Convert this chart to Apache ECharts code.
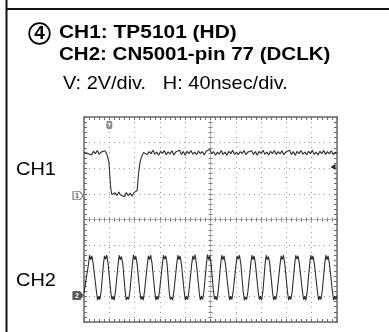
<!DOCTYPE html>
<html><head><meta charset="utf-8">
<script src="https://cdn.jsdelivr.net/npm/echarts@6/dist/echarts.min.js"></script>
<style>html,body{margin:0;padding:0;background:#fff}#c{width:389px;height:332px}</style>
</head><body><div id="c"></div>
<script>
// ---- texts ----
const stepNumber = '4';
const titleLines = ['CH1: TP5101 (HD)', 'CH2: CN5001-pin 77 (DCLK)'];
const scaleLine = 'V: 2V/div.   H: 40nsec/div.';
const channelNames = ['CH1', 'CH2'];

// ---- scope settings ----
const timeMin = -200, timeMax = 200, timePerDiv = 40;   // ns
const divMin = -4, divMax = 4;
const voltsPerDiv = 2;
const ch1Position = 0.93;   // ground position in divisions
const ch2Position = -2.97;
const triggerTime = -160;   // ns
const triggerLevel = 2.24;  // V on CH1

// ---- CH1 trace (ns, V) ----
const ch1Trace = [
[-200,3.36],[-197,3.50],[-194,3.30],[-191,3.44],[-188,3.18],[-185,3.46],[-182,3.28],[-179,3.52],[-176,3.22],[-173,3.40],[-170,3.30],[-167,3.50],[-164,3.26],[-162,3.34],
[-160.5,2.6],[-159,1.4],[-157.5,0.5],[-156,0.1],
[-154,-0.05],[-151,0.22],[-148,0.02],[-145,0.28],[-142,0.05],[-139,0.2],[-136,-0.08],[-133,0.24],[-130,0.0],[-127,0.2],[-124,-0.04],[-121,0.24],[-118,0.12],
[-116,0.4],[-114.5,1.3],[-113,2.1],[-111,2.7],[-108.5,3.1],[-106,3.36],
[-103,3.50],[-100,3.22],[-97,3.44],[-94,3.28],[-91,3.54],[-88,3.24],[-85,3.40],[-82,3.16],[-79,3.46],[-76,3.30],[-73,3.52],[-70,3.20],[-67,3.42],[-64,3.26],[-61,3.50],[-58,3.18],[-55,3.40],[-52,3.28],[-49,3.54],[-46,3.22],[-43,3.44],[-40,3.16],[-37,3.46],[-34,3.28],[-31,3.52],[-28,3.24],[-25,3.40],[-22,3.20],[-19,3.48],[-16,3.28],[-13,3.44],[-10,3.18],[-7,3.46],[-4,3.32],[-1,3.60],[2,3.28],[5,3.44],[8,3.16],[11,3.40],[14,3.24],[17,3.52],[20,3.22],[23,3.40],[26,3.16],[29,3.46],[32,3.28],[35,3.54],[38,3.22],[41,3.40],[44,3.20],[47,3.44],[50,3.28],[53,3.52],[56,3.20],[59,3.40],[62,3.26],[65,3.50],[68,3.22],[71,3.44],[74,3.16],[77,3.46],[80,3.28],[83,3.54],[86,3.24],[89,3.40],[92,3.18],[95,3.46],[98,3.28],[101,3.52],[104,3.22],[107,3.44],[110,3.26],[113,3.50],[116,3.20],[119,3.40],[122,3.28],[125,3.54],[128,3.22],[131,3.44],[134,3.16],[137,3.46],[140,3.28],[143,3.52],[146,3.24],[149,3.40],[152,3.20],[155,3.46],[158,3.28],[161,3.54],[164,3.22],[167,3.40],[170,3.18],[173,3.46],[176,3.28],[179,3.52],[182,3.22],[185,3.44],[188,3.26],[191,3.50],[194,3.20],[197,3.40],[200,3.30]
];

// ---- CH2 trace (ns, V) ----
const ch2Trace = [
[-200,0.2],
[-192.8,2.5],[-191.2,3.15],[-189.4,2.8],[-187.6,3.1],[-185.5,2.5],
[-180.3,0.3],[-178.5,-0.35],[-176.7,-0.05],[-174.9,-0.3],[-172.9,0.3],
[-169.2,2.5],[-167.6,3.1],[-165.8,2.85],[-164.0,3.15],[-161.9,2.5],
[-157.7,0.3],[-155.9,-0.3],[-154.1,-0.05],[-152.3,-0.35],[-150.3,0.3],
[-146.0,2.5],[-144.4,3.15],[-142.6,2.8],[-140.8,3.05],[-138.7,2.5],
[-134.9,0.3],[-133.1,-0.35],[-131.3,-0.1],[-129.5,-0.3],[-127.5,0.3],
[-123.4,2.5],[-121.8,3.2],[-120.0,2.8],[-118.2,3.1],[-116.1,2.5],
[-111.8,0.3],[-110.0,-0.3],[-108.2,-0.05],[-106.4,-0.35],[-104.4,0.3],
[-99.7,2.5],[-98.1,3.1],[-96.3,2.8],[-94.5,3.15],[-92.4,2.5],
[-88.1,0.3],[-86.3,-0.35],[-84.5,-0.05],[-82.7,-0.3],[-80.7,0.3],
[-76.0,2.5],[-74.4,3.15],[-72.6,2.85],[-70.8,3.1],[-68.7,2.5],
[-65.3,0.3],[-63.5,-0.3],[-61.7,-0.1],[-59.9,-0.35],[-57.9,0.3],
[-53.3,2.5],[-51.7,3.15],[-49.9,2.8],[-48.1,3.1],[-46.0,2.5],
[-41.6,0.3],[-39.8,-0.35],[-38.0,-0.05],[-36.2,-0.3],[-34.2,0.3],
[-29.6,2.5],[-28.0,3.1],[-26.2,2.8],[-24.4,3.2],[-22.3,2.5],
[-17.9,0.3],[-16.1,-0.35],[-14.3,-0.05],[-12.5,-0.3],[-10.5,0.3],
[-6.4,2.5],[-4.8,3.2],[-3.0,2.8],[-1.2,3.1],[0.9,2.5],
[4.7,0.3],[6.5,-0.3],[8.3,-0.05],[10.1,-0.35],[12.1,0.3],
[16.2,2.5],[17.8,3.15],[19.6,2.8],[21.4,3.1],[23.5,2.5],
[28.4,0.3],[30.2,-0.35],[32.0,-0.05],[33.8,-0.3],[35.8,0.3],
[40.6,2.5],[42.2,3.1],[44.0,2.85],[45.8,3.15],[47.9,2.5],
[51.7,0.3],[53.5,-0.35],[55.3,-0.1],[57.1,-0.3],[59.1,0.3],
[63.7,2.5],[65.3,3.15],[67.1,2.8],[68.9,3.1],[71.0,2.5],
[75.4,0.3],[77.2,-0.3],[79.0,-0.05],[80.8,-0.35],[82.8,0.3],
[86.4,2.5],[88.0,3.15],[89.8,2.8],[91.6,3.05],[93.7,2.5],
[98.0,0.3],[99.8,-0.35],[101.6,-0.05],[103.4,-0.3],[105.4,0.3],
[110.1,2.5],[111.7,3.1],[113.5,2.8],[115.3,3.15],[117.4,2.5],
[121.7,0.3],[123.5,-0.35],[125.3,-0.05],[127.1,-0.3],[129.1,0.3],
[133.2,2.5],[134.8,3.15],[136.6,2.85],[138.4,3.1],[140.5,2.5],
[145.4,0.3],[147.2,-0.3],[149.0,-0.05],[150.8,-0.35],[152.8,0.3],
[156.9,2.5],[158.5,3.15],[160.3,2.8],[162.1,3.1],[164.2,2.5],
[169.1,0.3],[170.9,-0.35],[172.7,-0.05],[174.5,-0.3],[176.5,0.3],
[180.7,2.5],[182.3,3.15],[184.1,2.8],[185.9,3.1],[188.0,2.5],
[192.8,0.3],[194.6,-0.35],[196.4,-0.05],[198.2,-0.3],[200,0.0]
];

// ---- build chart ----
const frameColor = '#6a6a6a';
const gridColor = '#9a9a9a';
const traceColor = '#2e2e2e';

function tickAxis(extra) {
  return Object.assign({
    type: 'value', axisLabel: {show: false}, splitLine: {show: false},
    axisLine: {show: true, onZero: false, lineStyle: {color: frameColor, width: 1.5}},
    axisTick: {show: true, inside: true, length: 3, lineStyle: {color: frameColor, width: 1}},
    minorTick: {show: true, splitNumber: 5, length: 3, lineStyle: {color: frameColor, width: 1}}
  }, extra);
}
function timeAxis(extra) {
  return tickAxis(Object.assign({min: timeMin, max: timeMax, interval: timePerDiv}, extra));
}
function divAxis(extra) {
  return tickAxis(Object.assign({min: divMin, max: divMax, interval: 1}, extra));
}
const dotted = {show: true, lineStyle: {color: gridColor, width: 1, type: [1, 4]}};
function centerLine() {
  return {show: true, onZero: true, onZeroAxisIndex: 0, lineStyle: {color: '#b5b5b5', width: 1, type: [1, 1]}};
}
function centerTick(inside) {
  return {show: true, inside: inside, length: 2, lineStyle: {color: '#7a7a7a', width: 1}};
}
const centerMinor = {show: true, splitNumber: 5, length: 2, lineStyle: {color: '#7a7a7a'}};
function voltAxis(pos) {
  return {type: 'value', show: false, min: (divMin - pos) * voltsPerDiv, max: (divMax - pos) * voltsPerDiv};
}

const markerLabel = (txt, color) => ({show: true, formatter: txt, fontSize: 7, fontWeight: 'bold', color: color, fontFamily: 'Liberation Sans', offset: [-1, 0]});
const arrowBox = 'path://M0,0 L7,0 L10,4 L7,8 L0,8 Z';
const titleFont = 'bold 19px "Liberation Sans"';
const plainFont = '19px "Liberation Sans"';

const option = {
  animation: false,
  grid: {left: 84, top: 117, width: 253, height: 205, show: false},
  xAxis: [
    timeAxis({position: 'bottom', splitLine: dotted}),
    timeAxis({position: 'top'}),
    timeAxis({position: 'bottom', axisLine: centerLine(), axisTick: centerTick(true), minorTick: centerMinor}),
    timeAxis({position: 'bottom', axisLine: centerLine(), axisTick: centerTick(false), minorTick: centerMinor})
  ],
  yAxis: [
    divAxis({position: 'left', splitLine: dotted}),
    divAxis({position: 'right'}),
    divAxis({position: 'left', axisLine: centerLine(), axisTick: centerTick(true), minorTick: centerMinor}),
    divAxis({position: 'left', axisLine: centerLine(), axisTick: centerTick(false), minorTick: centerMinor}),
    voltAxis(ch1Position),
    voltAxis(ch2Position)
  ],
  series: [
    {
      name: channelNames[0], type: 'line', xAxisIndex: 0, yAxisIndex: 4, data: ch1Trace,
      showSymbol: false, symbol: 'none', lineStyle: {color: traceColor, width: 1.1}, silent: true,
      markPoint: {
        silent: true,
        data: [
          {coord: [timeMin, 0], symbol: arrowBox, symbolSize: [10, 8], symbolOffset: [-6, 0],
           itemStyle: {color: '#fff', borderColor: '#777', borderWidth: 1}, label: markerLabel('1', '#555')},
          {coord: [timeMax, triggerLevel], symbol: 'path://M0,4 L6,0 L6,8 Z', symbolSize: [5, 6], symbolOffset: [-4, 0],
           itemStyle: {color: '#222'}, label: {show: false}},
          {coord: [triggerTime, (divMax - ch1Position) * voltsPerDiv], symbol: 'roundRect', symbolSize: [6, 8], symbolOffset: [0, 8],
           itemStyle: {color: '#8c8c8c'}, label: {show: true, formatter: 'T', fontSize: 6, color: '#fff', fontWeight: 'bold'}}
        ]
      }
    },
    {
      name: channelNames[1], type: 'line', xAxisIndex: 0, yAxisIndex: 5, data: ch2Trace,
      showSymbol: false, symbol: 'none', lineStyle: {color: traceColor, width: 1.1}, silent: true,
      markPoint: {
        silent: true,
        data: [
          {coord: [timeMin, 0], symbol: arrowBox, symbolSize: [10, 8], symbolOffset: [-6, 0],
           itemStyle: {color: '#555', borderColor: '#555', borderWidth: 1}, label: markerLabel('2', '#fff')}
        ]
      }
    }
  ],
  graphic: [
    {type: 'line', shape: {x1: 6.5, y1: 0, x2: 6.5, y2: 332}, style: {stroke: '#111', lineWidth: 2}},
    {type: 'line', shape: {x1: 6.5, y1: 9, x2: 389, y2: 9}, style: {stroke: '#111', lineWidth: 2}},
    {type: 'circle', shape: {cx: 39.5, cy: 33.5, r: 10.3}, style: {fill: 'none', stroke: '#000', lineWidth: 1.7}},
    {type: 'text', x: 39.5, y: 33.8, style: {text: stepNumber, font: titleFont, fill: '#000', align: 'center', verticalAlign: 'middle'}},
    {type: 'text', x: 59, y: 32.7, scaleX: 1.1, style: {text: titleLines[0], font: titleFont, fill: '#000', align: 'left', verticalAlign: 'middle'}},
    {type: 'text', x: 59, y: 54.3, scaleX: 1.08, style: {text: titleLines[1], font: titleFont, fill: '#000', align: 'left', verticalAlign: 'middle'}},
    {type: 'text', x: 63, y: 83.7, scaleX: 1.05, style: {text: scaleLine, font: plainFont, fill: '#000', align: 'left', verticalAlign: 'middle'}},
    {type: 'text', x: 16, y: 169.7, scaleX: 1.05, style: {text: channelNames[0], font: plainFont, fill: '#000', align: 'left', verticalAlign: 'middle'}},
    {type: 'text', x: 16, y: 280.3, scaleX: 1.05, style: {text: channelNames[1], font: plainFont, fill: '#000', align: 'left', verticalAlign: 'middle'}}
  ]
};
const chart = echarts.init(document.getElementById('c'), null, {renderer: 'canvas'});
chart.setOption(option);
</script>
</body></html>
